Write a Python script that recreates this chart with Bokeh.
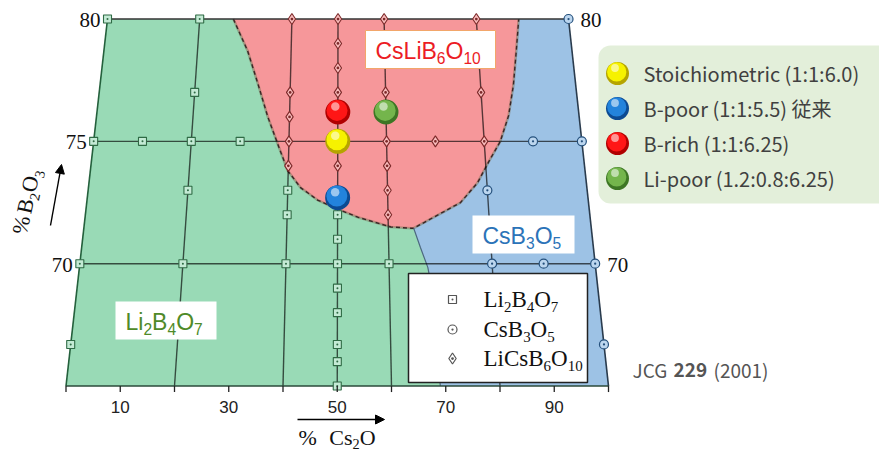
import numpy as np
from bokeh.plotting import figure
from bokeh.models import BoxAnnotation, Arrow, NormalHead, Range1d
from bokeh.core.properties import value
from bokeh.embed import file_html
from bokeh.resources import INLINE

# ---------------- data ----------------
# r = Cs2O share of the alkali oxides (%), b = mol% B2O3
li2b4o7_r = [0, 20, 20, 0, 10, 20, 30, 20, 40, 40, 50, 50, 0, 20, 40, 50, 60, 50, 50, 50, 50, 50, 0]
li2b4o7_b = [80, 80, 77, 75, 75, 75, 75, 73, 73, 72, 72, 71, 70, 70, 70, 70, 70, 69, 68, 66.7, 66, 65, 66.7]

csb3o5_r = [100, 90, 100, 80, 80, 90, 100, 100]
csb3o5_b = [80, 75, 75, 73, 70, 70, 70, 66.7]

clbo_r = [40, 50, 60, 80, 50, 50, 40, 50, 60, 80, 40, 40, 60, 70, 80, 40, 50, 60, 60, 60]
clbo_b = [80, 80, 80, 80, 79, 78, 77, 77, 77, 77, 76, 75, 75, 75, 75, 74, 74, 74, 73, 72]

# CsLiB6O10 primary field: left branch (top -> bottom), right branch (bottom -> top)
clbo_left_r = [27.3, 30.7, 33.1, 35.5, 37.7, 39.9, 42.6, 44.0, 46.0, 49.2, 54.0, 60.5, 64.5]
clbo_left_b = [80.0, 78.7, 77.4, 76.0, 74.9, 73.8, 73.1, 72.9, 72.6, 72.3, 71.9, 71.5, 71.45]
clbo_right_r = [65.0, 70.4, 74.5, 78.1, 80.6, 83.3, 85.4, 86.9, 88.1, 89.2]
clbo_right_b = [71.45, 72.05, 72.5, 73.3, 74.15, 75.0, 76.05, 77.3, 78.7, 80.0]
# Li2B4O7 / CsB3O5 field border
csb_edge_r = [65.0, 66.2, 67.5, 67.9, 69.0]
csb_edge_b = [71.45, 70.66, 69.85, 69.3, 65.0]

grid_r = [20, 40, 50, 60, 80]
grid_b = [75, 70]
left_ticks = [80, 75, 70]
right_ticks = [80, 70]
bottom_ticks = [0, 10, 20, 30, 40, 50, 60, 70, 80, 90, 100]
bottom_labels = [10, 30, 50, 70, 90]

sample_labels = ["Stoichiometric (1:1:6.0)", "B-poor (1:1:5.5) 従来",
                 "B-rich (1:1:6.25)", "Li-poor (1.2:0.8:6.25)"]
sample_r = [50, 50, 50, 60]
sample_b = [75.0, 72.7, 76.2, 76.2]
sample_fill = ["#f6f200", "#2383dc", "#ff1616", "#74b54c"]
sample_shade = ["#b5a400", "#0c4a92", "#b00000", "#3d7624"]

# ---------------- geometry ----------------
W, H = 879, 452
X0_PX, PX_PER_X = 65.5, 5.425      # bottom edge: 0 %..100 % Cs2O
Y80_PX, PX_PER_B = 18.5, 24.47     # B2O3 scale
MID = 0.34                         # em-box middle above the baseline


def px2x(px):
    return (px - X0_PX) / PX_PER_X


def px2y(py):
    return 80.0 - (py - Y80_PX) / PX_PER_B


def comp_xy(r, b):
    """Map (Cs2O share, B2O3 %) onto the trapezoidal section."""
    r = np.asarray(r, float)
    b = np.asarray(b, float)
    lo = 0.51 * (b - 65.0)
    hi = 100.0 - 0.4913 * (b - 65.0)
    return lo + r / 100.0 * (hi - lo), b


p = figure(width=W, height=H, output_backend="svg", toolbar_location=None,
           x_range=Range1d(px2x(0), px2x(W)), y_range=Range1d(px2y(H), px2y(0)),
           x_axis_location=None, y_axis_location=None, min_border=0)
p.grid.visible = False
p.outline_line_color = None
p.background_fill_color = "white"
p.border_fill_color = "white"

ARIAL = dict({c: 556 for c in "0123456789"}, C=722, s=500, L=556, i=222, B=667, O=778)
ARIAL.update({"%": 889, " ": 278})
TIMES = dict({c: 500 for c in "0123456789"}, C=667, s=389, L=611, i=278, B=667, O=722)
TIMES.update({"%": 833, " ": 250})


def rich(x0, y0, parts, font, size, color, table, angle_deg=0.0, sub_scale=0.68, sub_drop=0.22):
    """Chemical formula with subscripts, laid out from a baseline start point (pixels)."""
    a = np.radians(angle_deg)
    ux, uy = np.cos(a), -np.sin(a)
    dx, dy = np.sin(a), np.cos(a)
    pos = 0.0
    for txt, kind in parts:
        if kind == "gap":
            pos += txt
            continue
        s = size * sub_scale if kind == "sub" else size
        drop = (size * sub_drop if kind == "sub" else 0.0) - MID * s
        px = x0 + ux * pos + dx * drop
        py = y0 + uy * pos + dy * drop
        p.text(x=[px2x(px)], y=[px2y(py)], text=[txt], angle=a,
               text_font=value(font), text_font_size=f"{s:.1f}px", text_color=color,
               text_align="left", text_baseline="middle")
        pos += sum(table.get(c, 556) for c in txt) * s / 1000.0


# ---------------- phase fields ----------------
GREEN, RED, BLUE = "#99dab6", "#f6979a", "#9dc2e5"
gx, gy = comp_xy([0, 0, 100, 100], [65, 80, 80, 65])
p.patch(gx, gy, fill_color=GREEN, line_color=None)

rx, ry = comp_xy(clbo_left_r + clbo_right_r, clbo_left_b + clbo_right_b)
p.patch(rx, ry, fill_color=RED, line_color=None)

bx, by = comp_xy(clbo_right_r[::-1] + csb_edge_r[1:] + [100, 100],
                 clbo_right_b[::-1] + csb_edge_b[1:] + [65, 80])
p.patch(bx, by, fill_color=BLUE, line_color=None)

# field borders
p.line(rx, ry, line_color="#7a6a50", line_alpha=0.45, line_width=2.6)
p.line(rx, ry, line_color="#3a2626", line_width=1.4, line_dash="4 3")
ex, ey = comp_xy(csb_edge_r, csb_edge_b)
p.line(ex, ey, line_color="#4d6880", line_width=1.2)

# ---------------- composition grid ----------------
xs, ys = [], []
for r in grid_r:
    x, y = comp_xy([r, r], [65, 80])
    xs.append(list(x)); ys.append(list(y))
for b in grid_b:
    x, y = comp_xy([0, 100], [b, b])
    xs.append(list(x)); ys.append(list(y))
p.multi_line(xs, ys, line_color="black", line_alpha=0.65, line_width=1.4)

# frame
fx, fy = comp_xy([0, 0, 100, 100, 0], [65, 80, 80, 65, 65])
p.line(fx[:2], fy[:2], line_color="#24603c", line_width=1.6)
p.line(fx[1:3], fy[1:3], line_color="#333333", line_width=1.6)
p.line(fx[2:4], fy[2:4], line_color="#2a3b4d", line_width=1.6)
p.line(fx[3:], fy[3:], line_color="#2b4a3a", line_width=1.6)

# ---------------- primary-phase points ----------------
x, y = comp_xy(li2b4o7_r, li2b4o7_b)
p.scatter(x, y, marker="square_dot", size=8, fill_color="#c4ead5",
          line_color="#2f6b45", line_width=1.1)
x, y = comp_xy(csb3o5_r, csb3o5_b)
p.scatter(x, y, marker="circle_dot", size=9, fill_color="#bcd6ef",
          line_color="#24507c", line_width=1.2)
x, y = comp_xy(clbo_r, clbo_b)
p.scatter(x, y, marker="diamond_dot", size=11, fill_color="#f9bcbc",
          line_color="#7d2a2a", line_width=1.1)

# ---------------- field names ----------------
p.quad(left=[px2x(365)], right=[px2x(495)], top=[px2y(30)], bottom=[px2y(68)],
       fill_color="white", line_color="#f2a66a", line_width=1)
p.quad(left=[px2x(472), px2x(115)], right=[px2x(574), px2x(216)],
       top=[px2y(215), px2y(301)], bottom=[px2y(253), px2y(339)],
       fill_color="white", line_color=None)
SANS = "Liberation Sans"
rich(375, 58, [("CsLiB", "n"), ("6", "sub"), ("O", "n"), ("10", "sub")], SANS, 23, "#ec1c24", ARIAL)
rich(482, 243, [("CsB", "n"), ("3", "sub"), ("O", "n"), ("5", "sub")], SANS, 23, "#2b73b8", ARIAL)
rich(125, 329, [("Li", "n"), ("2", "sub"), ("B", "n"), ("4", "sub"), ("O", "n"), ("7", "sub")],
     SANS, 23, "#4f8a28", ARIAL)

# ---------------- symbol key ----------------
p.quad(left=[px2x(408)], right=[px2x(587)], top=[px2y(273)], bottom=[px2y(382)],
       fill_color="white", line_color="#222222", line_width=1.5)
key_x = px2x(452)
for marker, py, sz in (("square_dot", 299, 8), ("circle_dot", 329, 9), ("diamond_dot", 358, 11)):
    p.scatter([key_x], [px2y(py)], marker=marker, size=sz, fill_color="white",
              line_color="#555555", line_width=1.2)
SERIF = "Liberation Serif"
rich(483, 307, [("Li", "n"), ("2", "sub"), ("B", "n"), ("4", "sub"), ("O", "n"), ("7", "sub")],
     SERIF, 23, "#111111", TIMES, sub_scale=0.65)
rich(483, 337, [("CsB", "n"), ("3", "sub"), ("O", "n"), ("5", "sub")], SERIF, 23, "#111111", TIMES,
     sub_scale=0.65)
rich(483, 366, [("LiCsB", "n"), ("6", "sub"), ("O", "n"), ("10", "sub")], SERIF, 23, "#111111", TIMES,
     sub_scale=0.65)


# ---------------- sample compositions ----------------
def balls(x, y, fill, shade, d):
    x = np.asarray(x, float); y = np.asarray(y, float)
    p.scatter(x, y, size=d, fill_color=shade, line_color=None)
    p.scatter(x - 0.8 / PX_PER_X, y + 1.6 / PX_PER_B, size=d * 0.84, fill_color=fill, line_color=None)
    p.scatter(x - 2.5 / PX_PER_X, y + 5.5 / PX_PER_B, size=d * 0.34, fill_color="white",
              fill_alpha=0.55, line_color=None)


sx, sy = comp_xy(sample_r, sample_b)
balls(sx, sy, sample_fill, sample_shade, 25)

legend_box = BoxAnnotation(left=px2x(598), right=px2x(895), top=px2y(45), bottom=px2y(203),
                           fill_color="#e3efda", fill_alpha=1.0, line_color=None,
                           border_radius=12, level="underlay")
p.add_layout(legend_box)
ly = [px2y(73 + 35 * i) for i in range(4)]
balls([px2x(617)] * 4, ly, sample_fill, sample_shade, 23)
p.text(x=[px2x(643)] * 4, y=ly, text=sample_labels, text_font=value("Noto Sans CJK JP"),
       text_font_size="20px", text_color="#404040", text_align="left", text_baseline="middle")

# ---------------- scales ----------------
lx, lyv = comp_xy([0] * len(left_ticks), left_ticks)
p.text(x=lx, y=lyv, text=[str(v) for v in left_ticks], x_offset=-7, y_offset=1,
       text_font=value(SERIF), text_font_size="21px", text_color="#111111",
       text_align="right", text_baseline="middle")
rxt, ryt = comp_xy([100] * len(right_ticks), right_ticks)
p.text(x=rxt, y=ryt, text=[str(v) for v in right_ticks], x_offset=12, y_offset=1,
       text_font=value(SERIF), text_font_size="21px", text_color="#111111",
       text_align="left", text_baseline="middle")

tx, _ = comp_xy(bottom_ticks, [65] * len(bottom_ticks))
p.segment(x0=tx, y0=[65] * len(tx), x1=tx, y1=[65 - 6 / PX_PER_B] * len(tx),
          line_color="#222222", line_width=1.3)
blx, _ = comp_xy(bottom_labels, [65] * len(bottom_labels))
p.text(x=blx, y=[65] * len(blx), text=[str(v) for v in bottom_labels], y_offset=21,
       text_font=value(SANS), text_font_size="17px", text_color="#222222",
       text_align="center", text_baseline="middle")

# axis titles with direction arrows
rich(298, 444, [("%", "n"), (12.5, "gap"), ("Cs", "n"), ("2", "sub"), ("O", "n")], SERIF, 22,
     "#111111", TIMES, sub_scale=0.65, sub_drop=0.18)
rich(26, 235, [("%", "n"), (3, "gap"), ("B", "n"), ("2", "sub"), ("O", "n"), ("3", "sub")], SERIF, 22,
     "#111111", TIMES, angle_deg=78, sub_scale=0.65)
p.add_layout(Arrow(end=NormalHead(size=9, fill_color="black", line_color="black"),
                   x_start=px2x(297), y_start=px2y(419), x_end=px2x(384), y_end=px2y(419),
                   line_color="black", line_width=1.4))
p.add_layout(Arrow(end=NormalHead(size=9, fill_color="black", line_color="black"),
                   x_start=px2x(50), y_start=px2y(225), x_end=px2x(61), y_end=px2y(164),
                   line_color="black", line_width=1.4))

# reference note
for txt, px, style in (("JCG", 632, "normal"), ("229", 673, "bold"), ("(2001)", 713, "normal")):
    p.text(x=[px2x(px)], y=[px2y(369)], text=[txt], text_font=value("Noto Sans CJK JP"),
           text_font_size="19px", text_font_style=style, text_color="#555555",
           text_align="left", text_baseline="middle")

open("out.html", "w").write(file_html(p, INLINE))
